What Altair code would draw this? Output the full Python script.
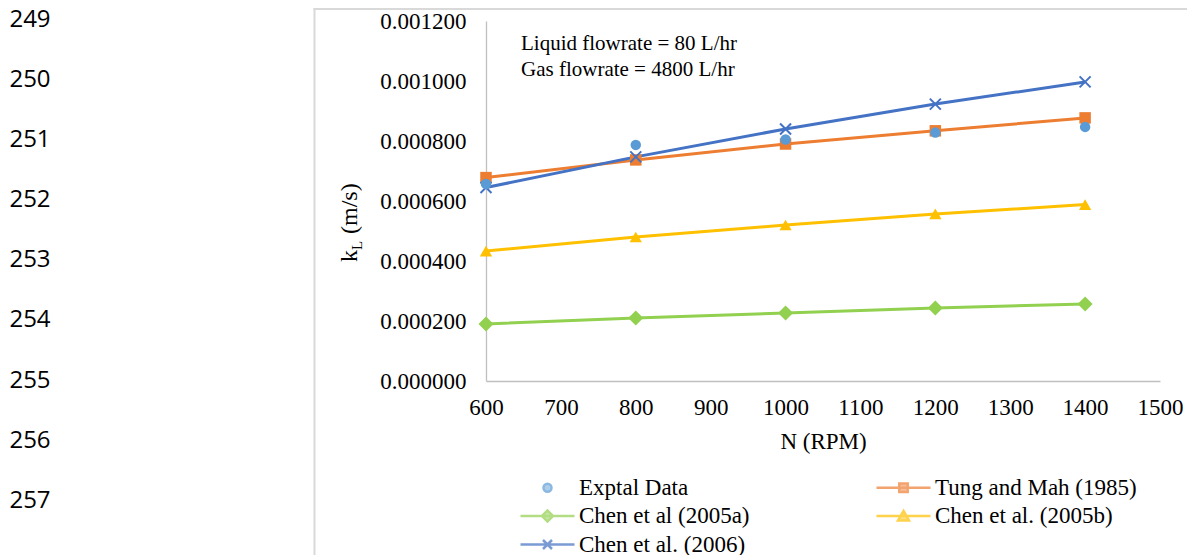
import altair as alt
import pandas as pd

# ---------------- data ----------------
rpm = [600, 800, 1000, 1200, 1400]
exptal_data = [0.000657, 0.000787, 0.000805, 0.000828, 0.000847]
tung_mah_1985 = [0.000678, 0.000737, 0.000790, 0.000834, 0.000877]
chen_2005a = [0.000190, 0.000210, 0.000227, 0.000243, 0.000257]
chen_2005b = [0.000433, 0.000480, 0.000520, 0.000557, 0.000588]
chen_2006 = [0.000645, 0.000747, 0.000840, 0.000923, 0.000997]

series_names = ["Exptal Data", "Tung and Mah (1985)", "Chen et al (2005a)",
                "Chen et al. (2005b)", "Chen et al. (2006)"]
series_values = [exptal_data, tung_mah_1985, chen_2005a, chen_2005b, chen_2006]

x_ticks = [600, 700, 800, 900, 1000, 1100, 1200, 1300, 1400, 1500]
y_ticks = [0.0, 0.0002, 0.0004, 0.0006, 0.0008, 0.0010, 0.0012]
line_numbers = [249, 250, 251, 252, 253, 254, 255, 256, 257]
annotation_lines = ["Liquid flowrate = 80 L/hr", "Gas flowrate = 4800 L/hr"]

# ---------------- styles ----------------
series_colors = ["#5B9BD5", "#ED7D31", "#92D050", "#FFC000", "#4472C4"]
marker_shapes = ["circle", "square", "diamond", "triangle-up", "M-1,-1L1,1M-1,1L1,-1"]
marker_sizes = [110, 132, 225, 150, 121]
marker_filled = [True, True, True, True, False]
has_line = [False, True, True, True, True]
legend_paths = [
    "M0.4,0A0.4,0.4,0,1,1,-0.4,0A0.4,0.4,0,1,1,0.4,0Z",
    "M-2.7,0H2.7M-0.42,-0.42H0.42V0.42H-0.42Z",
    "M-2.7,0H2.7M-0.55,0L0,-0.55L0.55,0L0,0.55Z",
    "M-2.7,0H2.7M0,-0.5L0.55,0.45L-0.55,0.45Z",
    "M-2.7,0H2.7M-0.45,-0.45L0.45,0.45M-0.45,0.45L0.45,-0.45",
]
serif = "Liberation Serif"

rows = []
for name, vals in zip(series_names, series_values):
    for n, v in zip(rpm, vals):
        rows.append({"series": name, "N": n, "kL": v})
df = pd.DataFrame(rows)

x_enc = alt.X("N:Q",
              scale=alt.Scale(domain=[600, 1500], nice=False, zero=False),
              axis=alt.Axis(values=x_ticks, title="N (RPM)", labelPadding=15,
                            titlePadding=11, format="d", labelFlush=False,
                            labelOverlap=False, labelFont=serif, labelFontSize=23,
                            labelColor="black", titleFont=serif, titleFontSize=23,
                            titleFontWeight="normal", titleColor="black",
                            ticks=False, grid=False, domainColor="#BFBFBF",
                            domainWidth=1.3))
y_enc = alt.Y("kL:Q",
              scale=alt.Scale(domain=[0, 0.0012], nice=False),
              axis=alt.Axis(values=y_ticks, format=".6f", title=None, labelPadding=20,
                            labelFlush=False, labelOverlap=False, labelFont=serif,
                            labelFontSize=23, labelColor="black", ticks=False,
                            grid=False, domainColor="#BFBFBF", domainWidth=1.3))

data_layers = []
for i, name in enumerate(series_names):
    if has_line[i]:
        data_layers.append(
            alt.Chart(df).transform_filter(alt.datum.series == name)
            .mark_line(color=series_colors[i], strokeWidth=3)
            .encode(x=x_enc, y=y_enc)
        )
for i in [1, 2, 3, 4, 0]:
    name = series_names[i]
    kw = dict(shape=marker_shapes[i], size=marker_sizes[i], filled=marker_filled[i],
              color=series_colors[i], opacity=1)
    if not marker_filled[i]:
        kw["strokeWidth"] = 2
    data_layers.append(
        alt.Chart(df).transform_filter(alt.datum.series == name)
        .mark_point(**kw)
        .encode(x=x_enc, y=y_enc)
    )

leg = alt.Legend(title=None, orient="none", legendX=50, legendY=455, columns=2,
                 direction="horizontal",
                 columnPadding=121, rowPadding=4.5, labelFont=serif, labelFontSize=23,
                 labelColor="black", labelLimit=500, labelOffset=20, symbolSize=400,
                 symbolStrokeWidth=2.5, padding=0)
color_scale = alt.Scale(domain=series_names, range=series_colors)
legend_layer = (
    alt.Chart(df).transform_calculate(kL="-1")
    .mark_point(filled=True, clip=True)
    .encode(
        x=x_enc, y=y_enc,
        fill=alt.Fill("series:N", scale=color_scale, legend=leg),
        stroke=alt.Stroke("series:N", scale=color_scale, legend=leg),
        shape=alt.Shape("series:N", scale=alt.Scale(domain=series_names, range=legend_paths),
                        legend=leg),
    )
)

main = alt.layer(*data_layers, legend_layer)

ln_df = pd.DataFrame({"line": line_numbers})
ln_layer = alt.Chart(ln_df).mark_text(
    font="Open Sans", fontSize=24, align="center", baseline="middle", color="black"
).encode(
    x=alt.value(-456),
    y=alt.Y("line:Q", scale=alt.Scale(domain=[249.017, 255.007], reverse=True,
                                      nice=False, zero=False), axis=None),
    text="line:N",
)

ann_df = pd.DataFrame({"txt": annotation_lines, "row": [0, 1]})
ann_layer = alt.Chart(ann_df).mark_text(
    font=serif, fontSize=21, align="left", baseline="middle", color="black"
).encode(
    x=alt.value(35),
    y=alt.Y("row:Q", scale=alt.Scale(domain=[0, 1], range=[23, 49], nice=False,
                                     zero=False), axis=None),
    text="txt:N",
)

ytitle_k = alt.Chart(pd.DataFrame({"t": ["k"]})).mark_text(
    font=serif, fontSize=24, angle=270, align="left", baseline="middle", color="black"
).encode(x=alt.value(-136), y=alt.value(241), text="t:N")
ytitle_L = alt.Chart(pd.DataFrame({"t": ["L"]})).mark_text(
    font=serif, fontSize=15, angle=270, align="left", baseline="middle", color="black"
).encode(x=alt.value(-129), y=alt.value(229), text="t:N")
ytitle_u = alt.Chart(pd.DataFrame({"t": ["(m/s)"]})).mark_text(
    font=serif, fontSize=24, angle=270, align="left", baseline="middle", color="black"
).encode(x=alt.value(-136), y=alt.value(213), text="t:N")

frame_v = alt.Chart(pd.DataFrame({"a": [0]})).mark_rule(color="#D9D9D9", strokeWidth=2).encode(
    x=alt.value(-171.5), y=alt.value(-13), y2=alt.value(600))
frame_h = alt.Chart(pd.DataFrame({"a": [0]})).mark_rule(color="#D9D9D9", strokeWidth=2).encode(
    x=alt.value(-172.5), x2=alt.value(760), y=alt.value(-12))

chart = alt.layer(
    main, ln_layer, ann_layer, ytitle_k, ytitle_L, ytitle_u, frame_v, frame_h
).resolve_scale(y="independent").properties(
    width=674, height=360,
    autosize=alt.AutoSizeParams(type="none"),
    padding={"left": 478, "top": 13, "right": 27, "bottom": 174},
    background="white",
).configure_view(stroke=None).configure_axis(
    domainColor="#BFBFBF", domainWidth=1.3, ticks=False, grid=False,
    labelFont=serif, labelFontSize=23, labelColor="black",
    titleFont=serif, titleFontSize=23, titleFontWeight="normal", titleColor="black",
)

chart.save("out.html", embed_options={"renderer": "svg", "actions": False})
